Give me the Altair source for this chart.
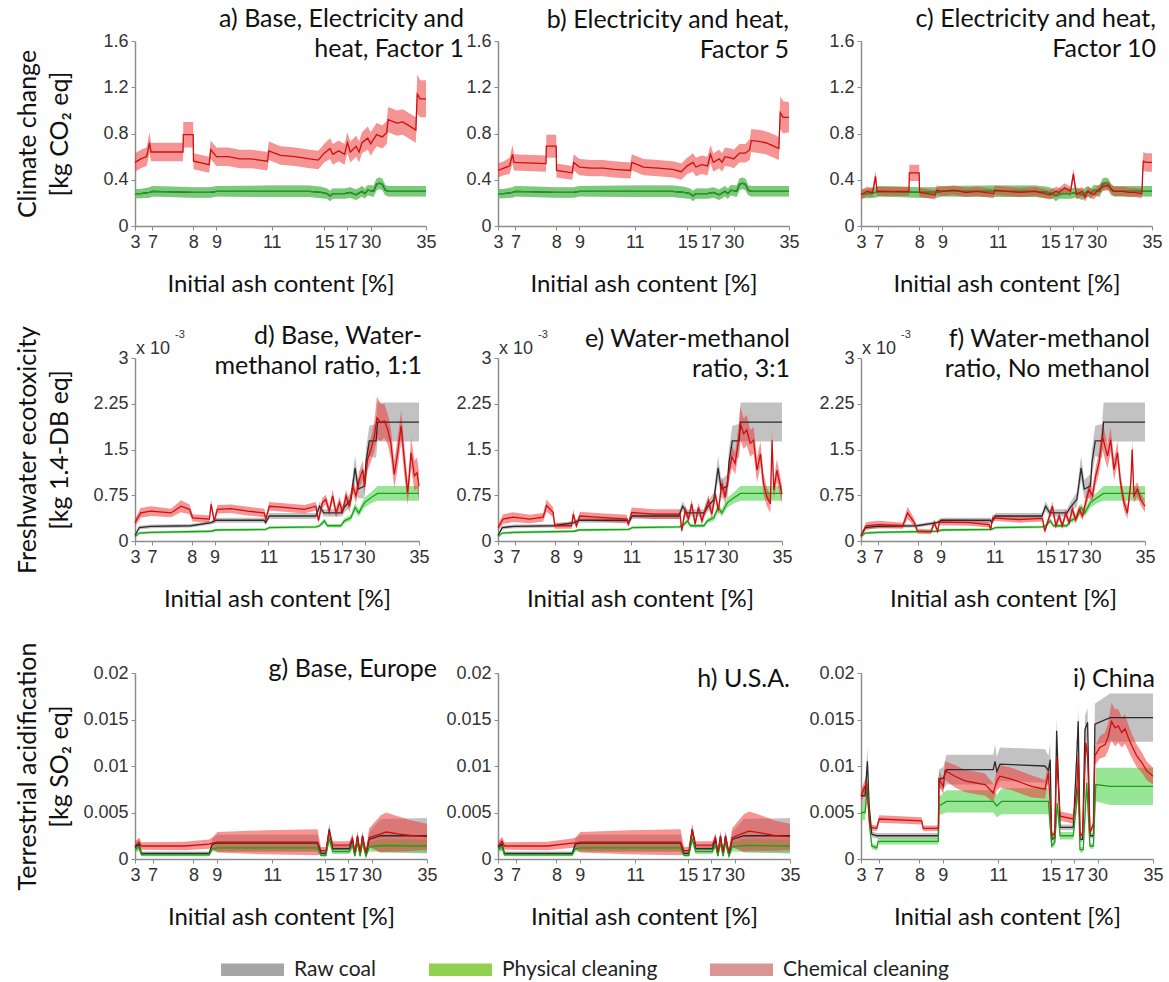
import altair as alt
import pandas as pd

# ---------------- axes / categories ----------------
XTICK_POS = [0, 6, 20, 28, 47, 65, 73, 81, 100]          # position along the sample axis (%)
XTICK_LABELS = ["3", "7", "8", "9", "11", "15", "17", "30", "35"]
SERIES = ["Raw coal", "Physical cleaning", "Chemical cleaning"]
CC_YTICKS = [0, 0.4, 0.8, 1.2, 1.6]
FE_YTICKS = [0, 0.75, 1.5, 2.25, 3]
TA_YTICKS = [0, 0.005, 0.01, 0.015, 0.02]

# ---------------- Climate change (kg CO2 eq) ----------------
# raw coal and physical cleaning coincide in this category
CC_X = [0, 2, 5, 6, 20, 26, 28, 46, 60, 64, 66, 67, 68, 72, 74, 76, 78, 79, 80, 82, 83, 84, 85, 86, 87, 100]
CC_Y = [0.28, 0.28, 0.29, 0.30, 0.29, 0.29, 0.30, 0.30, 0.30, 0.29, 0.28, 0.26, 0.28, 0.28, 0.29, 0.27, 0.30, 0.28, 0.31, 0.30, 0.36, 0.37, 0.36, 0.31, 0.30, 0.30]
CC_W = [0.04, 0.04, 0.045, 0.045, 0.045, 0.045, 0.045, 0.05, 0.05, 0.05, 0.045, 0.045, 0.045, 0.045, 0.045, 0.045, 0.045, 0.045, 0.045, 0.05, 0.05, 0.05, 0.05, 0.045, 0.045, 0.045]

CC_CHEM_X = [0, 2, 4, 5, 5.5, 16.5, 16.6, 20, 20.1, 25.5, 26, 28, 32, 36, 40, 45.5, 46, 50, 55, 60,
             63, 65, 67, 68, 70, 72, 73, 74, 76, 77, 78, 80, 81, 83, 85, 86.5, 87, 90, 92, 94, 96.5, 97, 98, 100]
A_CHEM_Y = [0.55, 0.58, 0.60, 0.72, 0.64, 0.64, 0.79, 0.79, 0.56, 0.53, 0.66, 0.60, 0.60, 0.58, 0.58, 0.56, 0.65, 0.61, 0.60, 0.58,
            0.57, 0.63, 0.67, 0.62, 0.65, 0.62, 0.72, 0.64, 0.69, 0.64, 0.72, 0.76, 0.71, 0.79, 0.77, 0.81, 0.92, 0.89, 0.90, 0.87,
            0.83, 1.14, 1.10, 1.10]
A_CHEM_W = [0.08, 0.08, 0.08, 0.09, 0.08, 0.08, 0.11, 0.11, 0.07, 0.07, 0.08, 0.08, 0.08, 0.08, 0.08, 0.08, 0.08, 0.08, 0.08, 0.08,
            0.08, 0.08, 0.09, 0.09, 0.09, 0.09, 0.09, 0.09, 0.09, 0.09, 0.09, 0.1, 0.1, 0.1, 0.1, 0.1, 0.11, 0.11, 0.11, 0.11,
            0.11, 0.17, 0.16, 0.16]
B_CHEM_Y = [0.48, 0.50, 0.52, 0.62, 0.55, 0.54, 0.69, 0.69, 0.48, 0.46, 0.55, 0.51, 0.50, 0.50, 0.49, 0.48, 0.55, 0.51, 0.50, 0.49,
            0.47, 0.52, 0.55, 0.51, 0.53, 0.52, 0.62, 0.55, 0.58, 0.55, 0.60, 0.59, 0.58, 0.63, 0.63, 0.66, 0.74, 0.73, 0.72, 0.70,
            0.67, 0.98, 0.94, 0.94]
B_CHEM_W = [0.06, 0.06, 0.07, 0.08, 0.07, 0.07, 0.1, 0.1, 0.06, 0.06, 0.07, 0.07, 0.07, 0.07, 0.07, 0.07, 0.07, 0.07, 0.07, 0.07,
            0.07, 0.07, 0.08, 0.08, 0.08, 0.08, 0.08, 0.08, 0.08, 0.08, 0.08, 0.08, 0.08, 0.08, 0.08, 0.09, 0.1, 0.1, 0.1, 0.1,
            0.1, 0.14, 0.14, 0.13]
C_CHEM_Y = [0.27, 0.30, 0.29, 0.43, 0.30, 0.30, 0.46, 0.46, 0.29, 0.27, 0.31, 0.30, 0.31, 0.29, 0.30, 0.28, 0.31, 0.30, 0.29, 0.30,
            0.28, 0.27, 0.30, 0.29, 0.33, 0.30, 0.45, 0.27, 0.30, 0.25, 0.30, 0.27, 0.30, 0.34, 0.35, 0.31, 0.30, 0.30, 0.29, 0.29,
            0.28, 0.56, 0.55, 0.55]
C_CHEM_W = [0.04, 0.04, 0.04, 0.05, 0.04, 0.04, 0.07, 0.07, 0.04, 0.04, 0.04, 0.04, 0.04, 0.04, 0.04, 0.04, 0.04, 0.04, 0.04, 0.04,
            0.04, 0.04, 0.04, 0.04, 0.04, 0.04, 0.05, 0.04, 0.04, 0.04, 0.04, 0.04, 0.04, 0.04, 0.04, 0.04, 0.04, 0.04, 0.04, 0.04,
            0.04, 0.08, 0.08, 0.08]

# ---------------- Freshwater ecotoxicity (x 10^-3 kg 1.4-DB eq) ----------------
FE_RAW_X = [0, 1.5, 5.6, 19.7, 26.8, 28.5, 45.5, 46, 47.3, 63.7, 65, 66.5, 72.5, 73.7, 76, 77.5, 78.6, 80.8, 81.3, 82.5, 84.9, 85.4, 100]
FE_RAW_Y = [0.09, 0.22, 0.24, 0.25, 0.30, 0.34, 0.34, 0.30, 0.41, 0.41, 0.57, 0.46, 0.46, 0.55, 0.68, 1.20, 0.85, 0.90, 1.28, 1.64, 1.64, 1.95, 1.95]
FE_RAW_W = [0.02, 0.03, 0.03, 0.03, 0.03, 0.04, 0.04, 0.04, 0.05, 0.05, 0.08, 0.06, 0.06, 0.08, 0.12, 0.2, 0.15, 0.2, 0.22, 0.25, 0.28, 0.32, 0.32]
FE_PHYS_X = [0, 1.5, 5.6, 26.8, 28.5, 46, 47.3, 63.7, 65, 66.7, 67.8, 72.5, 73.7, 76, 77.5, 78.8, 80.8, 83.1, 85.4, 100]
FE_PHYS_Y = [0.07, 0.13, 0.14, 0.16, 0.18, 0.19, 0.22, 0.23, 0.25, 0.33, 0.25, 0.25, 0.33, 0.38, 0.55, 0.46, 0.63, 0.71, 0.78, 0.78]
FE_PHYS_W = [0.01, 0.02, 0.02, 0.02, 0.02, 0.02, 0.02, 0.02, 0.03, 0.04, 0.03, 0.03, 0.04, 0.05, 0.07, 0.06, 0.08, 0.09, 0.12, 0.12]

D_CHEM_X = [0, 2, 5.6, 12.7, 16.2, 19.2, 20.3, 26.2, 26.8, 27.9, 29, 33.8, 39.7, 45.5, 46.1, 47.3, 52.6, 59.6, 63.7, 64.6,
            66, 67.2, 68.4, 69.6, 70.8, 72, 73.1, 74.3, 75.5, 76.7, 77.8, 79, 80.2, 80.8, 81.9, 83.1, 84.3, 85.2, 86.6, 87.8,
            89, 90.1, 91.3, 92.5, 93.7, 94.8, 96, 96.6, 97.2, 98.4, 99.3, 100]
D_CHEM_Y = [0.30, 0.46, 0.49, 0.46, 0.57, 0.52, 0.38, 0.36, 0.60, 0.33, 0.52, 0.53, 0.49, 0.46, 0.36, 0.57, 0.55, 0.52, 0.57, 0.34,
            0.63, 0.68, 0.49, 0.74, 0.46, 0.63, 0.48, 0.74, 0.57, 0.90, 0.74, 1.01, 1.17, 0.90, 1.34, 1.50, 1.72, 2.02, 1.94, 1.97,
            1.83, 1.60, 1.09, 1.45, 1.89, 1.34, 0.79, 1.07, 1.45, 1.07, 1.12, 0.90]
D_CHEM_W = [0.06, 0.08, 0.08, 0.07, 0.1, 0.08, 0.06, 0.06, 0.08, 0.06, 0.07, 0.07, 0.07, 0.07, 0.06, 0.07, 0.07, 0.07, 0.07, 0.06,
            0.08, 0.08, 0.08, 0.1, 0.08, 0.1, 0.08, 0.1, 0.1, 0.12, 0.12, 0.14, 0.15, 0.15, 0.18, 0.2, 0.25, 0.35, 0.3, 0.28,
            0.25, 0.25, 0.22, 0.25, 0.25, 0.25, 0.2, 0.2, 0.25, 0.25, 0.25, 0.22]
E_CHEM_X = [0, 1.8, 5.3, 11.2, 15.9, 17.1, 19.4, 20, 25.9, 26.5, 27.6, 28.8, 34.7, 45.3, 45.9, 47.1, 54.7, 64.1, 64.7, 65.9,
            67.1, 68.2, 69.4, 70.6, 71.8, 72.9, 74.1, 75.3, 76.5, 77.6, 78.8, 80, 81.2, 82.4, 83.5, 84.7, 85.3, 86.5, 87.6, 88.8,
            90, 91.2, 92.4, 93.5, 94.7, 95.9, 96.5, 97.1, 98.2, 100]
E_CHEM_Y = [0.22, 0.36, 0.39, 0.36, 0.39, 0.58, 0.47, 0.25, 0.25, 0.44, 0.25, 0.41, 0.39, 0.36, 0.28, 0.47, 0.44, 0.44, 0.17, 0.50,
            0.36, 0.61, 0.28, 0.55, 0.33, 0.50, 0.66, 0.44, 0.77, 0.50, 0.94, 0.72, 1.10, 1.38, 1.27, 1.65, 1.93, 1.76, 1.82, 1.60,
            1.65, 1.16, 1.43, 0.94, 0.72, 0.61, 1.65, 0.83, 1.16, 0.77]
E_CHEM_W = [0.05, 0.08, 0.08, 0.07, 0.07, 0.1, 0.08, 0.05, 0.05, 0.08, 0.05, 0.07, 0.07, 0.07, 0.05, 0.08, 0.08, 0.08, 0.05, 0.08,
            0.07, 0.08, 0.07, 0.08, 0.07, 0.08, 0.1, 0.08, 0.1, 0.08, 0.12, 0.12, 0.15, 0.18, 0.18, 0.22, 0.28, 0.25, 0.25, 0.22,
            0.22, 0.2, 0.2, 0.18, 0.15, 0.15, 0.2, 0.15, 0.18, 0.15]
F_CHEM_X = [0, 1.8, 6.4, 14.7, 16.4, 18.8, 19.9, 24.6, 25.8, 27, 27.6, 38.1, 45.1, 45.7, 46.3, 55.7, 63.9, 64.7, 66.2, 67.4,
            68.6, 69.8, 70.9, 72.1, 73.3, 74.4, 75.6, 76.8, 78, 79.1, 80.3, 81.5, 82.6, 83.8, 85, 85.6, 86.8, 87.9, 89.1, 90.3,
            91.4, 92.6, 93.8, 95, 95.5, 96.1, 97.3, 98.5, 100]
F_CHEM_Y = [0.08, 0.25, 0.27, 0.25, 0.46, 0.30, 0.16, 0.15, 0.30, 0.16, 0.31, 0.30, 0.27, 0.19, 0.38, 0.35, 0.37, 0.16, 0.38, 0.57,
            0.25, 0.41, 0.25, 0.46, 0.30, 0.52, 0.35, 0.52, 0.41, 0.63, 0.85, 0.74, 1.06, 1.28, 1.72, 1.61, 1.39, 1.66, 1.17, 1.45,
            0.95, 0.63, 0.46, 0.95, 1.50, 0.74, 0.85, 0.68, 0.57]
F_CHEM_W = [0.03, 0.06, 0.06, 0.05, 0.1, 0.06, 0.04, 0.04, 0.06, 0.04, 0.05, 0.05, 0.05, 0.04, 0.05, 0.05, 0.05, 0.04, 0.06, 0.08,
            0.06, 0.07, 0.06, 0.07, 0.06, 0.08, 0.07, 0.08, 0.07, 0.1, 0.12, 0.12, 0.15, 0.18, 0.22, 0.22, 0.2, 0.2, 0.18, 0.18,
            0.15, 0.12, 0.1, 0.12, 0.15, 0.12, 0.12, 0.1, 0.1]

# ---------------- Terrestrial acidification (values in 10^-3 kg SO2 eq) ----------------
TA_X = [0, 1.4, 2.2, 25.4, 26.5, 28.2, 62.5, 63.7, 65.4, 66.5, 67.7, 73.4, 74.5, 75.3, 76.2, 77.1, 77.9, 79.1, 80.2, 84.2, 100]
TA_RAW_Y = [1.25, 1.6, 0.6, 0.6, 1.6, 1.7, 1.7, 0.6, 0.6, 3.2, 1.1, 1.1, 2.1, 0.4, 2.5, 0.4, 2.5, 0.4, 2.1, 2.5, 2.5]
TA_RAW_W = [0.4, 0.6, 0.2, 0.2, 0.6, 0.9, 0.9, 0.3, 0.3, 0.6, 0.3, 0.3, 0.6, 0.2, 0.6, 0.2, 0.6, 0.2, 0.8, 1.8, 1.9]
TA_PHYS_Y = [1.0, 1.3, 0.45, 0.45, 1.1, 1.2, 1.2, 0.4, 0.4, 2.2, 0.8, 0.8, 1.5, 0.3, 1.8, 0.3, 1.8, 0.3, 1.3, 1.45, 1.4]
TA_PHYS_W = [0.3, 0.4, 0.15, 0.15, 0.3, 0.4, 0.4, 0.15, 0.15, 0.5, 0.25, 0.25, 0.4, 0.1, 0.5, 0.1, 0.5, 0.1, 0.5, 0.7, 0.7]
TA_CHEM_X = [0, 1.4, 2.2, 17, 25.4, 26.5, 28.2, 45, 62.5, 63.7, 65.4, 66.5, 67.7, 73.4, 74.5, 75.3, 76.2, 77.1, 77.9, 79.1,
             80.2, 84.2, 86, 90, 95, 100]
TA_CHEM_W = [0.45, 0.5, 0.4, 0.45, 0.5, 0.6, 1.1, 1.3, 1.4, 0.4, 0.4, 0.6, 0.4, 0.4, 0.5, 0.3, 0.5, 0.3, 0.5, 0.3,
             1.0, 2.0, 2.1, 1.9, 1.6, 1.4]
G_CHEM_Y = [1.4, 1.8, 1.4, 1.4, 1.6, 1.7, 1.8, 1.8, 1.8, 0.9, 0.9, 3.0, 1.5, 1.5, 2.2, 0.7, 2.4, 0.7, 2.4, 0.7,
            2.3, 2.7, 2.9, 2.7, 2.5, 2.4]
H_CHEM_Y = [1.4, 1.9, 1.4, 1.4, 1.7, 1.7, 1.8, 1.8, 1.8, 0.9, 0.9, 3.1, 1.5, 1.5, 2.3, 0.7, 2.4, 0.7, 2.4, 0.7,
            2.3, 2.8, 3.0, 2.8, 2.5, 2.4]

I_RAW_X = [0, 1.4, 2.2, 2.8, 3.7, 5.4, 26.5, 26.7, 28.2, 29.3, 45.3, 45.9, 46.5, 47.6, 63, 64.2, 64.8, 65.3, 66.4, 67,
           68.2, 72.7, 73.9, 74.4, 75, 75.9, 76.7, 77.6, 78.4, 79.6, 80.1, 85.3, 100]
I_RAW_Y = [6.8, 6.8, 10.5, 5.7, 2.65, 2.5, 2.5, 8.6, 8.7, 9.6, 9.6, 10.5, 9.4, 10.2, 10.0, 9.5, 10.7, 2.1, 2.3, 13.8,
           3.4, 3.4, 11.1, 14.8, 2.1, 2.1, 13.9, 14.7, 2.5, 2.5, 14.5, 15.2, 15.2]
I_RAW_W = [1.0, 1.0, 1.5, 0.8, 0.3, 0.3, 0.3, 1.0, 1.2, 1.6, 1.6, 1.8, 1.6, 1.8, 1.8, 1.6, 1.8, 0.3, 0.3, 1.5,
           0.3, 0.3, 1.5, 1.5, 0.3, 0.3, 1.5, 1.5, 0.3, 0.3, 2.2, 2.6, 2.6]
I_PHYS_X = [0, 1.4, 2.2, 2.8, 3.7, 5.4, 5.9, 26.5, 26.7, 29.3, 45.3, 46.5, 48.2, 64.2, 65.3, 66.4, 67.2, 68.2, 72.7, 74.4,
            75, 76.1, 77.3, 78.4, 79.6, 80.4, 85.3, 100]
I_PHYS_Y = [5.0, 5.0, 8.0, 4.0, 1.4, 1.2, 1.9, 1.9, 5.7, 6.2, 6.2, 5.7, 6.2, 6.2, 1.4, 1.8, 6.0, 2.5, 2.5, 7.8,
            1.0, 1.0, 8.2, 1.4, 1.4, 8.0, 7.8, 7.8]
I_PHYS_W = [0.8, 0.8, 1.0, 0.6, 0.3, 0.3, 0.35, 0.35, 1.0, 1.2, 1.2, 1.2, 1.4, 1.4, 0.3, 0.4, 1.0, 0.4, 0.4, 1.2,
            0.3, 0.3, 1.2, 0.3, 0.3, 1.8, 2.0, 2.0]
I_CHEM_X = [0, 1.9, 2.5, 3.1, 5.4, 6.2, 20.8, 21.3, 26.5, 26.7, 28.2, 28.8, 32.2, 35.6, 39, 42.5, 45.3, 46.5, 47.6, 51.6,
            55, 58.4, 63, 64.2, 65.3, 66.4, 67, 68.2, 72.7, 73.9, 74.4, 75, 75.9, 77, 77.6, 78.4, 79.6, 80.1, 81.8, 83.6,
            84.7, 85.8, 87, 88.1, 89.3, 90.4, 91.6, 92.7, 94.4, 96.1, 97.8, 100]
I_CHEM_Y = [6.8, 8.2, 5.7, 3.4, 3.3, 4.3, 4.1, 3.3, 3.3, 8.6, 7.8, 9.5, 8.9, 8.4, 8.2, 8.0, 7.1, 8.4, 8.9, 8.6,
            8.2, 7.8, 7.5, 9.3, 2.5, 2.8, 11.1, 4.6, 4.3, 7.5, 11.1, 2.5, 2.7, 12.5, 11.1, 2.8, 3.8, 11.1, 12.0, 12.3,
            13.2, 14.8, 14.1, 14.3, 13.6, 14.0, 13.0, 12.2, 11.1, 10.4, 9.5, 8.9]
I_CHEM_W = [0.6, 0.8, 0.6, 0.3, 0.3, 0.4, 0.4, 0.3, 0.3, 0.8, 0.8, 1.0, 1.2, 1.2, 1.2, 1.2, 1.0, 1.0, 1.2, 1.2,
            1.2, 1.2, 1.0, 1.0, 0.3, 0.3, 0.8, 0.5, 0.5, 0.8, 0.8, 0.3, 0.3, 0.8, 0.8, 0.3, 0.3, 1.0, 1.2, 1.3,
            1.5, 2.0, 2.0, 1.8, 1.6, 1.6, 1.4, 1.3, 1.2, 1.1, 1.0, 0.9]
TA_UNIT = 1e-3

# ---------------- styles ----------------
BAND_COLORS = ["#9a9a9a", "#3fd23f", "#ee3b3b"]
BAND_OPACITY = [0.6, 0.55, 0.55]
LINE_COLORS = ["#2b2b2b", "#1f9e1f", "#cc1010"]
LEGEND_COLORS = ["#a6a6a6", "#92d050", "#d99694"]
TITLE_FONT = "Lato"
TICK_FONT = "Liberation Sans"


def series(name, xs, ys, ws, unit=1.0):
    df = pd.DataFrame({"x": xs, "y": ys, "w": ws})
    df["lo"] = (df["y"] - df["w"]).clip(lower=0) * unit
    df["hi"] = (df["y"] + df["w"]) * unit
    df["y"] = df["y"] * unit
    df["s"] = name
    return df[["x", "y", "lo", "hi", "s"]]


LABEL_EXPR = " : ".join(f"datum.value == {p} ? '{l}'" for p, l in zip(XTICK_POS, XTICK_LABELS)) + " : ''"
ONE = pd.DataFrame({"k": [0]})


def panel(dfs, ydom, yticks, width, height, title_lines, tx, ty, ytitle=None, exponent=False, legend=False):
    xenc = alt.X("x:Q", scale=alt.Scale(domain=[0, 100], nice=False, zero=False),
                 axis=alt.Axis(values=XTICK_POS, labelExpr=LABEL_EXPR, title="Initial ash content [%]",
                               titleY=58, titleBaseline="middle", labelOverlap=False, labelFlush=False,
                               labelBound=False))
    yscale = alt.Scale(domain=ydom, nice=False, zero=False)
    ax = dict(values=yticks, labelExpr="'' + datum.value", labelOverlap=False, labelFlush=False)
    if ytitle:
        ax.update(title=ytitle, titleX=-108, titleY=height / 2, titleAngle=270, titleBaseline="middle",
                  titleAlign="center", titleLineHeight=32, titleFontSize=25)
    else:
        ax.update(title=None)
    yaxis = alt.Axis(**ax)

    layers = []
    # uncertainty bands (one layer per series, drawn grey -> green -> red)
    for df, col, op in zip(dfs, BAND_COLORS, BAND_OPACITY):
        layers.append(
            alt.Chart(df).mark_area(color=col, fillOpacity=op, interpolate="linear").encode(
                x=xenc, y=alt.Y("lo:Q", scale=yscale, axis=yaxis), y2="hi:Q")
        )
    # central lines
    for df, col in zip(dfs, LINE_COLORS):
        layers.append(
            alt.Chart(df).mark_line(color=col, strokeWidth=1.3, interpolate="linear").encode(
                x=xenc, y=alt.Y("y:Q", scale=yscale, axis=yaxis))
        )
    layers.append(
        alt.Chart(ONE).mark_text(text=title_lines, align="right", baseline="middle", font=TITLE_FONT,
                                 fontSize=25, lineHeight=30, color="#111111").encode(
            x=alt.value(tx), y=alt.value(ty))
    )
    if exponent:
        layers.append(alt.Chart(ONE).mark_text(text="x 10", align="left", baseline="middle", font=TICK_FONT,
                                               fontSize=18, color="#333333").encode(x=alt.value(1), y=alt.value(-9)))
        layers.append(alt.Chart(ONE).mark_text(text="-3", align="left", baseline="middle", font=TICK_FONT,
                                               fontSize=11, color="#333333").encode(x=alt.value(40), y=alt.value(-23)))
    if legend:
        layers.append(
            alt.Chart(pd.DataFrame({"s": SERIES})).mark_square(opacity=0, size=10).encode(
                x=alt.value(5), y=alt.value(5),
                color=alt.Color("s:N", scale=alt.Scale(domain=SERIES, range=LEGEND_COLORS),
                                legend=alt.Legend(orient="none", legendX=86, legendY=897, direction="horizontal",
                                                  title=None, symbolType="M-1,-0.2H1V0.2H-1Z", symbolSize=3969,
                                                  symbolStrokeWidth=0, symbolOpacity=1, symbolFillColor="#a6a6a6",
                                                  labelFont=TITLE_FONT, padding=0,
                                                  labelFontSize=21, labelColor="#222222", labelOffset=10,
                                                  columnPadding=52, labelLimit=300))
            )
        )
    return alt.layer(*layers).properties(width=width, height=height)


cc_raw = series(SERIES[0], CC_X, CC_Y, CC_W)
cc_phys = series(SERIES[1], CC_X, CC_Y, CC_W)
fe_raw = series(SERIES[0], FE_RAW_X, FE_RAW_Y, FE_RAW_W)
fe_phys = series(SERIES[1], FE_PHYS_X, FE_PHYS_Y, FE_PHYS_W)
ta_raw = series(SERIES[0], TA_X, TA_RAW_Y, TA_RAW_W, TA_UNIT)
ta_phys = series(SERIES[1], TA_X, TA_PHYS_Y, TA_PHYS_W, TA_UNIT)

W1, H1 = 291, 185
W2, H2 = 284, 183
W3, H3 = 292, 186

pa = panel([cc_raw, cc_phys, series(SERIES[2], CC_CHEM_X, A_CHEM_Y, A_CHEM_W)], [0, 1.6], CC_YTICKS, W1, H1,
           ["a) Base, Electricity and", "heat, Factor 1"], 329, -22, ytitle=["Climate change", "[kg CO\u2082 eq]"],
           legend=True)
pb = panel([cc_raw, cc_phys, series(SERIES[2], CC_CHEM_X, B_CHEM_Y, B_CHEM_W)], [0, 1.6], CC_YTICKS, W1, H1,
           ["b) Electricity and heat,", "Factor 5"], 291, -21)
pc = panel([cc_raw, cc_phys, series(SERIES[2], CC_CHEM_X, C_CHEM_Y, C_CHEM_W)], [0, 1.6], CC_YTICKS, W1, H1,
           ["c) Electricity and heat,", "Factor 10"], 295, -22)
pd_ = panel([fe_raw, fe_phys, series(SERIES[2], D_CHEM_X, D_CHEM_Y, D_CHEM_W)], [0, 3], FE_YTICKS, W2, H2,
            ["d) Base, Water-", "methanol ratio, 1:1"], 287, -22,
            ytitle=["Freshwater ecotoxicity", "[kg 1.4-DB eq]"], exponent=True)
pe = panel([fe_raw, fe_phys, series(SERIES[2], E_CHEM_X, E_CHEM_Y, E_CHEM_W)], [0, 3], FE_YTICKS, W2, H2,
           ["e) Water-methanol", "ratio, 3:1"], 292, -19, exponent=True)
pf = panel([fe_raw, fe_phys, series(SERIES[2], F_CHEM_X, F_CHEM_Y, F_CHEM_W)], [0, 3], FE_YTICKS, W2, H2,
           ["f) Water-methanol", "ratio, No methanol"], 289, -19, exponent=True)
pg = panel([ta_raw, ta_phys, series(SERIES[2], TA_CHEM_X, G_CHEM_Y, TA_CHEM_W, TA_UNIT)], [0, 0.02], TA_YTICKS, W3, H3,
           ["g) Base, Europe"], 302, -4, ytitle=["Terrestrial acidification", "[kg SO\u2082 eq]"])
ph = panel([ta_raw, ta_phys, series(SERIES[2], TA_CHEM_X, H_CHEM_Y, TA_CHEM_W, TA_UNIT)], [0, 0.02], TA_YTICKS, W3, H3,
           ["h) U.S.A."], 292, 6)
pi = panel([series(SERIES[0], I_RAW_X, I_RAW_Y, I_RAW_W, TA_UNIT),
            series(SERIES[1], I_PHYS_X, I_PHYS_Y, I_PHYS_W, TA_UNIT),
            series(SERIES[2], I_CHEM_X, I_CHEM_Y, I_CHEM_W, TA_UNIT)], [0, 0.02], TA_YTICKS, W3, H3,
           ["i) China"], 294, 6)

chart = alt.concat(pa, pb, pc, pd_, pe, pf, pg, ph, pi, columns=3, spacing={"row": 132, "column": 71},
                   bounds="flush").properties(
    padding={"left": 15, "top": 7, "right": 5, "bottom": 5}
).configure_view(stroke=None).configure_axis(
    grid=False, domainColor="#8c8c8c", domainWidth=1.5, tickColor="#8c8c8c", tickSize=4, tickWidth=1,
    labelFont=TICK_FONT, labelFontSize=18, labelColor="#333333", labelPadding=3,
    titleFont=TITLE_FONT, titleFontSize=24, titleFontWeight="normal", titleColor="#111111"
)

chart.save("out.html", embed_options={"renderer": "svg", "actions": False})
